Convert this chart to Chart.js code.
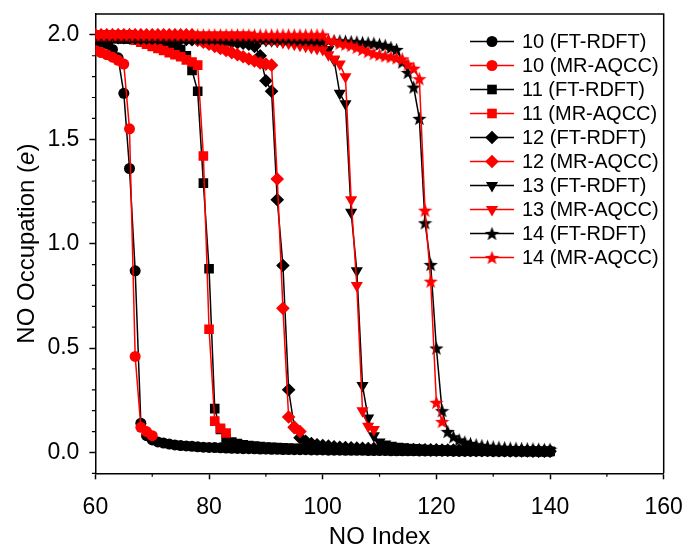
<!DOCTYPE html>
<html lang="en">
<head>
<meta charset="UTF-8">
<title>NO Occupation</title>
<script src="https://cdn.jsdelivr.net/npm/chart.js"></script>
<style>
  body { margin: 0; background: #fff; }
  #wrap { width: 684px; height: 548px; }
</style>
</head>
<body>
<div id="wrap"><canvas id="occChart"></canvas></div>
<script>
// every curve starts at NO index 60, one value per orbital
var noStart = 60;

var ft10 = [
  1.970, 1.965, 1.958, 1.930, 1.890, 1.720, 1.360, 0.870, 0.140, 0.080,
  0.060, 0.050, 0.045, 0.040, 0.036, 0.033, 0.031, 0.029, 0.027, 0.025,
  0.024, 0.023, 0.022, 0.021, 0.020, 0.019, 0.018, 0.018, 0.017, 0.016,
  0.016, 0.015, 0.015, 0.014, 0.014, 0.013, 0.013, 0.013, 0.012, 0.012,
  0.012, 0.011, 0.011, 0.011, 0.010, 0.010, 0.010, 0.010, 0.009, 0.009,
  0.009, 0.009, 0.008, 0.008, 0.008, 0.008, 0.008, 0.007, 0.007, 0.007,
  0.007, 0.007, 0.007, 0.006, 0.006, 0.006, 0.006, 0.006, 0.006, 0.006,
  0.005, 0.005, 0.005, 0.005, 0.005, 0.005, 0.005, 0.005, 0.004, 0.004,
  0.004
];
var mr10 = [
  1.925, 1.915, 1.905, 1.893, 1.878, 1.860, 1.550, 0.460, 0.120, 0.100,
  0.080
];
var ft11 = [
  1.985, 1.985, 1.984, 1.983, 1.982, 1.981, 1.980, 1.978, 1.976, 1.974,
  1.970, 1.966, 1.960, 1.955, 1.945, 1.930, 1.900, 1.830, 1.730, 1.290,
  0.880, 0.210, 0.110, 0.065, 0.050, 0.042, 0.037, 0.033, 0.030, 0.028,
  0.026, 0.024, 0.023, 0.022, 0.021, 0.020, 0.019, 0.018, 0.017, 0.016,
  0.016, 0.015, 0.015, 0.014, 0.014, 0.013, 0.013, 0.012, 0.012, 0.012,
  0.011, 0.011, 0.011, 0.010, 0.010, 0.010, 0.009, 0.009, 0.009, 0.009,
  0.008, 0.008, 0.008, 0.008, 0.007, 0.007, 0.007, 0.007, 0.007, 0.006,
  0.006, 0.006, 0.006, 0.006, 0.006, 0.005, 0.005, 0.005, 0.005, 0.005,
  0.005
];
var mr11 = [
  2.000, 2.000, 2.000, 2.000, 2.000, 2.000, 2.000, 1.975, 1.965, 1.955,
  1.945, 1.935, 1.925, 1.915, 1.905, 1.895, 1.880, 1.870, 1.855, 1.420,
  0.590, 0.150, 0.115, 0.093
];
var ft12 = [
  1.988, 1.988, 1.987, 1.987, 1.986, 1.986, 1.985, 1.985, 1.984, 1.984,
  1.983, 1.983, 1.982, 1.981, 1.980, 1.979, 1.978, 1.977, 1.976, 1.975,
  1.974, 1.972, 1.970, 1.968, 1.966, 1.963, 1.960, 1.955, 1.945, 1.900,
  1.780, 1.730, 1.210, 0.895, 0.300, 0.120, 0.070, 0.053, 0.043, 0.037,
  0.033, 0.030, 0.027, 0.025, 0.023, 0.022, 0.021, 0.020, 0.019, 0.018,
  0.017, 0.016, 0.016, 0.015, 0.015, 0.014, 0.014, 0.013, 0.013, 0.012,
  0.012, 0.011, 0.011, 0.011, 0.010, 0.010, 0.010, 0.009, 0.009, 0.009,
  0.008, 0.008, 0.008, 0.007, 0.007, 0.007, 0.007, 0.006, 0.006, 0.006,
  0.006
];
var mr12 = [
  2.000, 2.000, 2.000, 2.000, 2.000, 2.000, 2.000, 2.000, 2.000, 2.000,
  2.000, 2.000, 2.000, 2.000, 2.000, 2.000, 2.000, 2.000, 1.975, 1.965,
  1.955, 1.945, 1.935, 1.925, 1.915, 1.905, 1.895, 1.885, 1.875, 1.865,
  1.860, 1.855, 1.310, 0.690, 0.170, 0.120, 0.100
];
var ft13 = [
  1.990, 1.990, 1.990, 1.989, 1.989, 1.989, 1.988, 1.988, 1.988, 1.987,
  1.987, 1.986, 1.986, 1.985, 1.985, 1.984, 1.984, 1.983, 1.983, 1.982,
  1.982, 1.981, 1.980, 1.980, 1.979, 1.978, 1.977, 1.976, 1.975, 1.974,
  1.973, 1.972, 1.970, 1.968, 1.966, 1.964, 1.961, 1.958, 1.955, 1.950,
  1.945, 1.930, 1.880, 1.720, 1.670, 1.150, 0.870, 0.320, 0.165, 0.080,
  0.050, 0.040, 0.034, 0.030, 0.027, 0.025, 0.023, 0.021, 0.020, 0.019,
  0.018, 0.017, 0.016, 0.015, 0.015, 0.014, 0.013, 0.013, 0.012, 0.012,
  0.011, 0.011, 0.010, 0.010, 0.010, 0.009, 0.009, 0.009, 0.008, 0.008,
  0.008
];
var mr13 = [
  2.000, 2.000, 2.000, 2.000, 2.000, 2.000, 2.000, 2.000, 2.000, 2.000,
  2.000, 2.000, 2.000, 2.000, 2.000, 2.000, 2.000, 2.000, 2.000, 2.000,
  2.000, 2.000, 2.000, 2.000, 2.000, 2.000, 2.000, 2.000, 1.990, 1.985,
  1.980, 1.975, 1.970, 1.965, 1.960, 1.955, 1.950, 1.945, 1.940, 1.935,
  1.930, 1.905, 1.885, 1.860, 1.800, 1.210, 0.800, 0.200, 0.125, 0.110
];
var ft14 = [
  1.993, 1.993, 1.993, 1.992, 1.992, 1.992, 1.992, 1.991, 1.991, 1.991,
  1.991, 1.990, 1.990, 1.990, 1.990, 1.989, 1.989, 1.989, 1.988, 1.988,
  1.988, 1.987, 1.987, 1.986, 1.986, 1.985, 1.985, 1.984, 1.984, 1.983,
  1.983, 1.982, 1.981, 1.981, 1.980, 1.979, 1.978, 1.977, 1.976, 1.975,
  1.974, 1.973, 1.972, 1.971, 1.970, 1.968, 1.966, 1.964, 1.962, 1.960,
  1.955, 1.950, 1.940, 1.930, 1.870, 1.820, 1.750, 1.600, 1.100, 0.900,
  0.500, 0.200, 0.100, 0.075, 0.060, 0.050, 0.043, 0.037, 0.033, 0.030,
  0.027, 0.025, 0.023, 0.021, 0.020, 0.019, 0.018, 0.017, 0.016, 0.015,
  0.015
];
var mr14 = [
  2.000, 2.000, 2.000, 2.000, 2.000, 2.000, 2.000, 2.000, 2.000, 2.000,
  2.000, 2.000, 2.000, 2.000, 2.000, 2.000, 2.000, 2.000, 2.000, 2.000,
  2.000, 2.000, 2.000, 2.000, 2.000, 2.000, 2.000, 2.000, 2.000, 2.000,
  2.000, 2.000, 2.000, 2.000, 2.000, 2.000, 2.000, 2.000, 2.000, 2.000,
  2.000, 1.975, 1.970, 1.960, 1.955, 1.950, 1.940, 1.930, 1.920, 1.910,
  1.905, 1.900, 1.895, 1.890, 1.885, 1.860, 1.840, 1.790, 1.160, 0.820,
  0.240, 0.148
];

var seriesLabels = [
  '10 (FT-RDFT)', '10 (MR-AQCC)', '11 (FT-RDFT)', '11 (MR-AQCC)',
  '12 (FT-RDFT)', '12 (MR-AQCC)', '13 (FT-RDFT)', '13 (MR-AQCC)',
  '14 (FT-RDFT)', '14 (MR-AQCC)'
];
var xTicks = [60, 80, 100, 120, 140, 160];
var yTicks = [0.0, 0.5, 1.0, 1.5, 2.0];
var xMinor = [70, 90, 110, 130, 150];
var yMinor = [-0.1, 0.1, 0.2, 0.3, 0.4, 0.6, 0.7, 0.8, 0.9, 1.1, 1.2, 1.3, 1.4, 1.6, 1.7, 1.8, 1.9];

var FONT = 'Liberation Sans, Arial, sans-serif';

// filled five-point star, used as the marker for the 14-electron curves
function makeStar(color, size) {
  var c = document.createElement('canvas');
  c.width = size; c.height = size;
  var g = c.getContext('2d');
  var cx = size / 2, cy = size / 2 + 0.7, R = size / 2, r = R * 0.42;
  g.beginPath();
  for (var k = 0; k < 10; k++) {
    var rad = k % 2 ? r : R;
    var a = -Math.PI / 2 + k * Math.PI / 5;
    g.lineTo(cx + rad * Math.cos(a), cy + rad * Math.sin(a));
  }
  g.closePath();
  g.fillStyle = color;
  g.fill();
  return c;
}

var starBlack = makeStar('#000000', 15);
var starRed = makeStar('#ff0000', 15);

function pts(vals) {
  return vals.map(function (v, i) { return { x: noStart + i, y: v }; });
}

var seriesValues = [ft10, mr10, ft11, mr11, ft12, mr12, ft13, mr13, ft14, mr14];
var markers = [
  { style: 'circle', radius: 5.5, rot: 0 },
  { style: 'rect', radius: 6.8, rot: 0 },
  { style: 'rectRot', radius: 6.8, rot: 0 },
  { style: 'triangle', radius: 7, rot: 180 },
  { style: null, radius: 7.5, rot: 0 }
];

var datasets = seriesValues.map(function (vals, i) {
  var red = i % 2 === 1;
  var color = red ? '#ff0000' : '#000000';
  var m = markers[Math.floor(i / 2)];
  var style = m.style || (red ? starRed : starBlack);
  return {
    label: seriesLabels[i],
    data: pts(vals),
    borderColor: color,
    backgroundColor: color,
    borderWidth: 1.5,
    pointStyle: style,
    pointRadius: m.radius,
    pointRotation: m.rot,
    pointBackgroundColor: color,
    pointBorderColor: color,
    pointBorderWidth: 0,
    tension: 0,
    clip: 0,
    order: seriesValues.length - i   // later curves sit on top
  };
});

// box frame, minor ticks, axis titles and the legend
var decor = {
  id: 'decor',
  afterDatasetsDraw: function (chart) {
    var ctx = chart.ctx, a = chart.chartArea;
    var xs = chart.scales.x, ys = chart.scales.y;
    ctx.save();
    ctx.strokeStyle = '#000';
    ctx.lineWidth = 1.5;
    ctx.beginPath();
    ctx.moveTo(a.left, a.top); ctx.lineTo(a.right, a.top); ctx.lineTo(a.right, a.bottom);
    ctx.stroke();
    ctx.lineWidth = 1.2;
    ctx.beginPath();
    xMinor.forEach(function (v) {
      var px = xs.getPixelForValue(v);
      ctx.moveTo(px, a.bottom); ctx.lineTo(px, a.bottom + 3.5);
    });
    yMinor.forEach(function (v) {
      var py = ys.getPixelForValue(v);
      ctx.moveTo(a.left, py); ctx.lineTo(a.left - 3.5, py);
    });
    ctx.stroke();

    // axis titles
    ctx.fillStyle = '#000';
    ctx.font = '24px ' + FONT;
    ctx.textAlign = 'center';
    ctx.textBaseline = 'middle';
    ctx.fillText('NO Index', (a.left + a.right) / 2, 537);

    var parts = [['NO Occupation (', ''], ['e', 'italic '], [')', '']];
    ctx.translate(27, (a.top + a.bottom) / 2);
    ctx.rotate(-Math.PI / 2);
    var total = 0;
    parts.forEach(function (p) { ctx.font = p[1] + '24px ' + FONT; total += ctx.measureText(p[0]).width; });
    var tx = -total / 2;
    ctx.textAlign = 'left';
    parts.forEach(function (p) {
      ctx.font = p[1] + '24px ' + FONT;
      ctx.fillText(p[0], tx, 0);
      tx += ctx.measureText(p[0]).width;
    });
    ctx.restore();

    // legend
    ctx.save();
    ctx.font = '20px ' + FONT;
    ctx.textBaseline = 'middle';
    ctx.textAlign = 'left';
    chart.data.datasets.forEach(function (ds, i) {
      var y = 41.5 + i * 24;
      ctx.strokeStyle = ds.borderColor;
      ctx.lineWidth = 1.5;
      ctx.beginPath();
      ctx.moveTo(470, y); ctx.lineTo(514, y);
      ctx.stroke();
      ctx.fillStyle = ds.borderColor;
      Chart.helpers.drawPoint(ctx, {
        pointStyle: ds.pointStyle, rotation: ds.pointRotation,
        radius: ds.pointRadius, borderWidth: 0
      }, 492, y);
      ctx.fillStyle = '#000';
      ctx.fillText(ds.label, 522, y + 1);
    });
    ctx.restore();
  }
};

new Chart(document.getElementById('occChart'), {
  type: 'line',
  data: { datasets: datasets },
  options: {
    responsive: true,
    maintainAspectRatio: false,
    animation: false,
    layout: { padding: { left: 0, right: 20.3, top: 14, bottom: 0 } },
    plugins: { legend: { display: false }, tooltip: { enabled: false } },
    scales: {
      x: {
        type: 'linear', min: 60, max: 160,
        afterBuildTicks: function (s) { s.ticks = xTicks.map(function (v) { return { value: v }; }); },
        afterFit: function (s) { s.height = 548 - 473.3; s.paddingLeft = 0; s.paddingRight = 0; },
        grid: { drawOnChartArea: false, tickLength: 6, tickWidth: 1.5, tickColor: '#000' },
        border: { display: true, color: '#000', width: 1.5 },
        ticks: {
          color: '#000', font: { family: FONT, size: 23 }, padding: 15,
          maxRotation: 0, autoSkip: false,
          callback: function (v) { return String(v); }
        }
      },
      y: {
        type: 'linear', min: -0.1, max: 2.1,
        afterBuildTicks: function (s) { s.ticks = yTicks.map(function (v) { return { value: v }; }); },
        afterFit: function (s) { s.width = 95.4; s.paddingTop = 0; s.paddingBottom = 0; },
        grid: { drawOnChartArea: false, tickLength: 6, tickWidth: 1.5, tickColor: '#000' },
        border: { display: true, color: '#000', width: 1.5 },
        ticks: {
          color: '#000', font: { family: FONT, size: 23 }, padding: 10,
          autoSkip: false,
          callback: function (v) { return v.toFixed(1); }
        }
      }
    }
  },
  plugins: [decor]
});
</script>
</body>
</html>
